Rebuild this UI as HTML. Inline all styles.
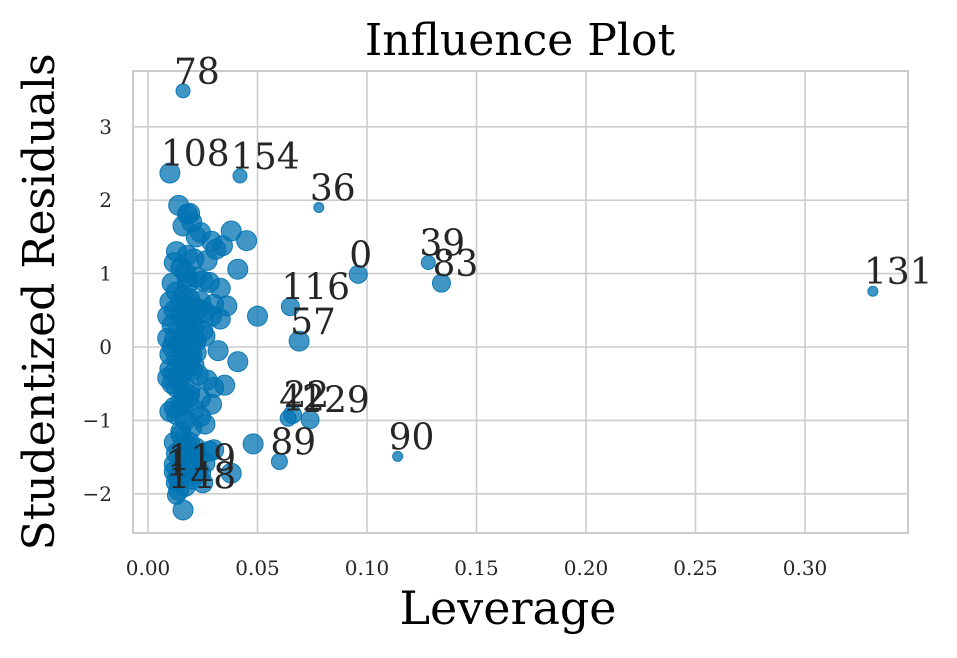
<!DOCTYPE html>
<html><head><meta charset="utf-8"><style>
body{margin:0;background:#fff}
svg text{font-family:"DejaVu Serif","Liberation Serif",serif}
</style></head><body>
<svg id="chart" width="957" height="653" xmlns="http://www.w3.org/2000/svg"></svg>
<script>
const xTicks=[0,0.05,0.10,0.15,0.20,0.25,0.30];
const xTickLabels=["0.00","0.05","0.10","0.15","0.20","0.25","0.30"];
const yTicks=[-2,-1,0,1,2,3];
const yTickLabels=["\u22122","\u22121","0","1","2","3"];
const labLev=[0.016,0.010,0.042,0.078,0.096,0.128,0.134,0.331,0.065,0.069,0.064,0.066,0.074,0.060,0.114,0.013,0.012,0.013];
const labRes=[3.49,2.37,2.33,1.90,0.99,1.15,0.87,0.76,0.55,0.08,-0.97,-0.92,-0.99,-1.56,-1.49,-1.78,-1.85,-2.02];
const labR=[7,10,7,5,9,7,9,5,9,10,8,9,9,8,5,9,8,9];
const labTxt=["78","108","154","36","0","39","83","131","116","57","42","22","129","89","90","119","1","148"];
const lev=[0.018,0.020,0.019,0.016,0.024,0.022,0.029,0.031,0.038,0.045,0.014,0.013,0.018,0.021,0.027,0.034,0.041,0.050,0.012,0.015,0.017,0.022,0.025,0.028,0.033,0.036,0.011,0.013,0.016,0.019,0.024,0.030,0.010,0.012,0.015,0.018,0.020,0.023,0.026,0.029,0.033,0.009,0.011,0.014,0.017,0.021,0.025,0.009,0.012,0.015,0.018,0.022,0.032,0.041,0.010,0.013,0.016,0.019,0.022,0.010,0.012,0.014,0.017,0.020,0.023,0.027,0.030,0.035,0.011,0.013,0.016,0.019,0.024,0.029,0.010,0.012,0.015,0.018,0.021,0.026,0.009,0.013,0.017,0.020,0.024,0.012,0.015,0.018,0.022,0.030,0.013,0.016,0.019,0.023,0.028,0.012,0.015,0.018,0.021,0.026,0.012,0.014,0.017,0.020,0.025,0.014,0.017,0.020,0.024,0.038,0.048,0.016,0.021,0.026,0.018,0.019,0.014,0.011,0.015,0.019,0.017,0.020,0.016,0.018,0.021,0.014,0.017,0.019,0.016,0.020,0.015,0.018];
const res=[1.81,1.70,1.82,1.65,1.56,1.50,1.44,1.33,1.58,1.45,1.93,1.30,1.25,1.20,1.18,1.38,1.06,0.42,1.15,1.08,1.02,0.95,0.90,0.88,0.80,0.56,0.87,0.75,0.70,0.66,0.62,0.58,0.62,0.50,0.45,0.40,0.35,0.52,0.48,0.42,0.38,0.42,0.30,0.25,0.20,0.28,0.22,0.12,0.10,0.05,0.00,0.08,-0.05,-0.20,-0.10,-0.15,-0.20,-0.12,-0.08,-0.30,-0.35,-0.40,-0.28,-0.32,-0.38,-0.45,-0.55,-0.52,-0.50,-0.55,-0.60,-0.65,-0.70,-0.78,-0.88,-0.82,-0.75,-0.70,-0.85,-1.05,-0.42,-0.92,-1.00,-1.10,-0.95,-1.30,-1.20,-1.35,-1.38,-1.40,-1.45,-1.35,-1.30,-1.50,-1.42,-1.60,-1.55,-1.62,-1.48,-1.58,-1.70,-1.80,-1.75,-1.65,-1.85,-1.95,-1.90,-1.80,-1.72,-1.72,-1.32,-2.22,-0.25,0.15,0.30,-0.60,0.05,0.00,0.60,0.45,0.20,-0.10,-0.35,0.85,0.10,-0.45,0.35,-0.20,-0.80,0.55,-1.15,0.95];
const svg=document.getElementById('chart');const NS='http://www.w3.org/2000/svg';
const L=133,R=908,T=71,B=533;
const xs=v=>148+v*2190, ys=v=>347-v*73.4;
function mk(t,a,p){const e=document.createElementNS(NS,t);for(const k in a)e.setAttribute(k,a[k]);(p||svg).appendChild(e);return e;}
const grid=mk('g',{});
xTicks.forEach((v,i)=>{mk('line',{x1:xs(v),x2:xs(v),y1:T,y2:B,stroke:'#cccccc','stroke-width':1.6},grid);
 const t=mk('text',{x:xs(v),y:575,'font-size':20,'text-anchor':'middle',fill:'#262626'});t.textContent=xTickLabels[i];
 });
yTicks.forEach((v,i)=>{mk('line',{x1:L,x2:R,y1:ys(v),y2:ys(v),stroke:'#cccccc','stroke-width':1.6},grid);
 const t=mk('text',{x:112,y:ys(v)+7,'font-size':20,'text-anchor':'end',fill:'#262626'});t.textContent=yTickLabels[i];
 });
const fr=mk('rect',{x:L,y:T,width:R-L,height:B-T,fill:'none',stroke:'#cccccc','stroke-width':2});

const pts=mk('g',{fill:'#0173b2','fill-opacity':0.75,stroke:'#0173b2','stroke-opacity':0.9});

const n=Math.min(lev.length,res.length);
for(let i=0;i<n;i++){const c=mk('circle',{cx:xs(lev[i]),cy:ys(res[i]),r:10},pts);
 }
labLev.forEach((v,i)=>{const c=mk('circle',{cx:xs(v),cy:ys(labRes[i]),r:labR[i]},pts);
 });
labLev.forEach((v,i)=>{const t=mk('text',{x:xs(v)-9,y:ys(labRes[i])-7,'font-size':36,fill:'#262626'});t.textContent=labTxt[i];
 });
let t=mk('text',{x:520,y:55,'font-size':44,'text-anchor':'middle',fill:'#000'});t.textContent='Influence Plot';

t=mk('text',{x:508,y:624,'font-size':46,'text-anchor':'middle',fill:'#000'});t.textContent='Leverage';

t=mk('text',{x:0,y:0,'font-size':44,'text-anchor':'middle',fill:'#000',transform:'translate(54,302) rotate(-90)'});t.textContent='Studentized Residuals';

</script>
</body></html>
